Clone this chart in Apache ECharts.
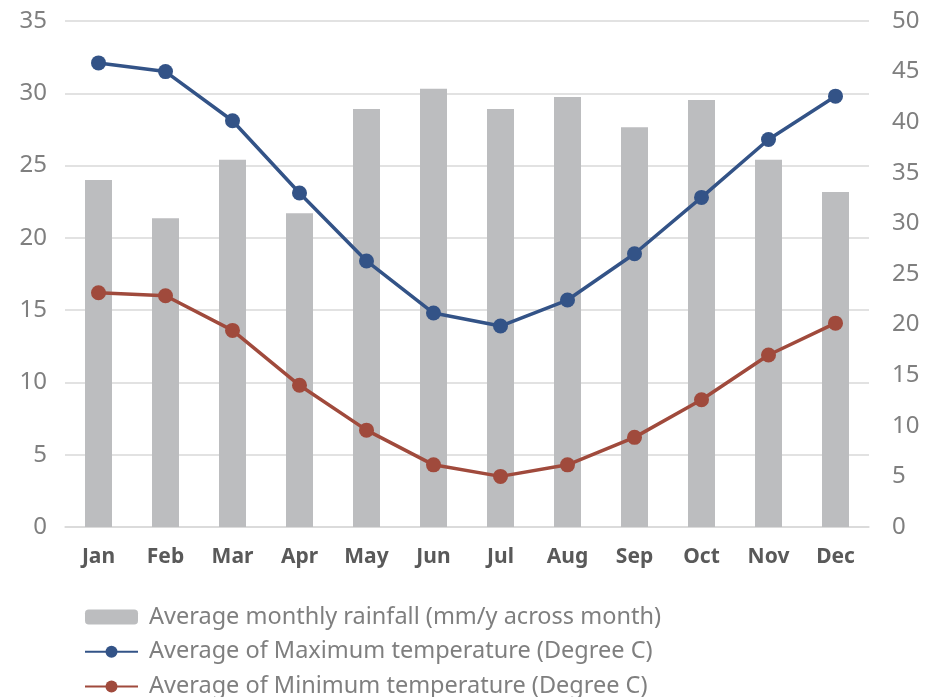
<!DOCTYPE html>
<html>
<head>
<meta charset="utf-8">
<script src="https://cdn.jsdelivr.net/npm/echarts@6/dist/echarts.min.js"></script>
<style>
  html, body { margin: 0; padding: 0; background: #ffffff; }
  #chart { width: 943px; height: 697px; }
</style>
</head>
<body>
<div id="chart"></div>
<script>
// months on the category axis
const months = ['Jan', 'Feb', 'Mar', 'Apr', 'May', 'Jun', 'Jul', 'Aug', 'Sep', 'Oct', 'Nov', 'Dec']
// rainfall, read against the right axis
const rainfall = [34.3, 30.5, 36.3, 31.0, 41.3, 43.3, 41.3, 42.5, 39.5, 42.2, 36.3, 33.1]
// temperatures, read against the left axis
const maxTemp = [32.1, 31.5, 28.1, 23.1, 18.4, 14.8, 13.9, 15.7, 18.9, 22.8, 26.8, 29.8]
const minTemp = [16.2, 16.0, 13.6, 9.8, 6.7, 4.3, 3.5, 4.3, 6.2, 8.8, 11.9, 14.1]

const seriesNames = [
  'Average monthly rainfall (mm/y across month)',
  'Average of Maximum temperature (Degree C)',
  'Average of Minimum temperature (Degree C)'
]

const chart = echarts.init(document.getElementById('chart'))
const font = 'Noto Sans'

chart.setOption({
  backgroundColor: '#ffffff',
  animation: false,
  textStyle: { fontFamily: font },
  grid: {
    left: 65,
    right: 74,
    top: 21,
    bottom: 170
  },
  legend: {
    orient: 'vertical',
    left: 84,
    top: 605,
    height: 120,
    padding: 0,
    itemWidth: 53,
    itemHeight: 15,
    itemGap: 10.7,
    data: seriesNames,
    textStyle: {
      color: '#7f7f7f',
      fontSize: 23.5,
      lineHeight: 24,
      fontFamily: font,
      padding: [0, 0, 0, 6]
    }
  },
  xAxis: {
    type: 'category',
    data: months,
    axisLine: { lineStyle: { color: '#d9d9d9', width: 1.5 } },
    axisTick: { show: false },
    axisLabel: {
      color: '#595959',
      fontSize: 21,
      fontWeight: 'bold',
      margin: 20
    }
  },
  yAxis: [
    {
      // temperatures
      type: 'value',
      min: 0,
      max: 35,
      interval: 5,
      axisLine: { show: false },
      axisTick: { show: false },
      axisLabel: { color: '#7f7f7f', fontSize: 24, margin: 18 },
      splitLine: { lineStyle: { color: '#d9d9d9', width: 1.5 } }
    },
    {
      // rainfall
      type: 'value',
      min: 0,
      max: 50,
      interval: 5,
      axisLine: { show: false },
      axisTick: { show: false },
      axisLabel: { color: '#7f7f7f', fontSize: 24, margin: 23 },
      splitLine: { show: false }
    }
  ],
  series: [
    {
      name: seriesNames[0],
      type: 'bar',
      yAxisIndex: 1,
      barWidth: 27,
      itemStyle: { color: '#bcbdbf' },
      data: rainfall
    },
    {
      name: seriesNames[1],
      type: 'line',
      yAxisIndex: 0,
      symbol: 'circle',
      symbolSize: 15,
      lineStyle: { color: '#335387', width: 3.5 },
      itemStyle: { color: '#335387' },
      data: maxTemp
    },
    {
      name: seriesNames[2],
      type: 'line',
      yAxisIndex: 0,
      symbol: 'circle',
      symbolSize: 15,
      lineStyle: { color: '#a04a3c', width: 3.5 },
      itemStyle: { color: '#a04a3c' },
      data: minTemp
    }
  ]
})
</script>
</body>
</html>
